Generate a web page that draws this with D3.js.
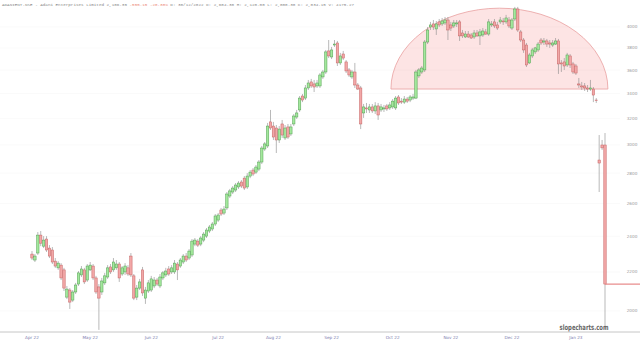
<!DOCTYPE html>
<html>
<head>
<meta charset="utf-8">
<script src="https://cdn.jsdelivr.net/npm/d3@7"></script>
<style>
  body { margin: 0; background: #fff; }
  svg { display: block; }
</style>
</head>
<body>
<svg id="chart" width="640" height="343"></svg>
<script>
// Daily candles, one row per session: [open, high, low, close]
var apr = [
  [2298, 2315, 2265, 2276], [2265, 2298, 2254, 2287], [2304, 2425, 2293, 2407], [2407, 2431, 2343, 2360],
  [2343, 2401, 2332, 2378], [2384, 2401, 2310, 2321], [2332, 2349, 2276, 2287], [2321, 2338, 2243, 2254],
  [2259, 2276, 2222, 2232], [2222, 2259, 2211, 2248], [2237, 2248, 2157, 2168], [2211, 2222, 2100, 2115],
  [2069, 2126, 2059, 2110], [2105, 2115, 2010, 2044], [2054, 2105, 2044, 2095], [2095, 2142, 2085, 2131],
  [2136, 2205, 2126, 2195], [2184, 2232, 2173, 2216], [2211, 2222, 2136, 2147], [2157, 2243, 2147, 2232]
];
var may = [
  [2211, 2254, 2205, 2237], [2232, 2243, 2157, 2168], [2168, 2179, 2085, 2095], [2121, 2136, 1910, 2064],
  [2095, 2168, 2080, 2152], [2142, 2195, 2131, 2179], [2173, 2237, 2163, 2222], [2227, 2243, 2189, 2200],
  [2211, 2276, 2200, 2254], [2222, 2265, 2211, 2243], [2243, 2254, 2147, 2168], [2189, 2232, 2179, 2222],
  [2200, 2248, 2184, 2232], [2222, 2237, 2179, 2189], [2287, 2304, 2173, 2184], [2179, 2189, 2054, 2064],
  [2069, 2131, 2054, 2115], [2115, 2163, 2105, 2147], [2211, 2227, 2075, 2090], [2064, 2121, 2035, 2105],
  [2100, 2157, 2090, 2142]
];
var jun = [
  [2105, 2179, 2095, 2163], [2126, 2173, 2115, 2157], [2157, 2168, 2126, 2136], [2126, 2189, 2115, 2173],
  [2168, 2205, 2157, 2195], [2184, 2222, 2173, 2205], [2216, 2232, 2179, 2189], [2200, 2237, 2189, 2222],
  [2200, 2265, 2189, 2248], [2243, 2254, 2157, 2211], [2232, 2276, 2222, 2265], [2254, 2298, 2243, 2287],
  [2287, 2304, 2254, 2265], [2276, 2326, 2265, 2315], [2293, 2384, 2282, 2372], [2355, 2390, 2343, 2378],
  [2372, 2384, 2338, 2349], [2355, 2401, 2343, 2390], [2378, 2425, 2366, 2413], [2401, 2449, 2390, 2437],
  [2431, 2467, 2419, 2455], [2443, 2485, 2431, 2473], [2473, 2534, 2461, 2522]
];
var jul = [
  [2497, 2540, 2485, 2528], [2559, 2572, 2522, 2534], [2540, 2584, 2528, 2565], [2572, 2674, 2559, 2661],
  [2648, 2694, 2635, 2681], [2674, 2713, 2661, 2700], [2687, 2733, 2674, 2720], [2707, 2746, 2694, 2733],
  [2740, 2753, 2700, 2713], [2766, 2780, 2687, 2700], [2707, 2800, 2694, 2780], [2780, 2821, 2766, 2807],
  [2821, 2835, 2780, 2794], [2807, 2856, 2794, 2842], [2828, 2891, 2814, 2877], [2877, 2992, 2863, 2977],
  [2970, 3021, 2956, 3007], [2992, 3165, 2977, 3141], [3173, 3267, 3111, 3126]
];
var aug = [
  [3141, 3173, 3036, 3058], [3126, 3149, 2941, 3036], [3036, 3141, 3014, 3118], [3157, 3188, 3051, 3073],
  [3051, 3149, 3036, 3126], [3134, 3157, 3044, 3058], [3081, 3157, 3066, 3134], [3157, 3235, 3141, 3219],
  [3211, 3267, 3196, 3243], [3267, 3380, 3251, 3363], [3380, 3397, 3330, 3347], [3363, 3472, 3347, 3447],
  [3447, 3515, 3430, 3489], [3498, 3524, 3447, 3464], [3481, 3515, 3413, 3455], [3464, 3515, 3447, 3489],
  [3464, 3575, 3447, 3558], [3541, 3602, 3524, 3584], [3584, 3782, 3567, 3764], [3773, 3875, 3708, 3727]
];
var sep = [
  [3718, 3810, 3699, 3782], [3828, 3875, 3810, 3837], [3847, 3866, 3637, 3664], [3664, 3755, 3646, 3727],
  [3745, 3773, 3690, 3708], [3673, 3690, 3575, 3593], [3602, 3619, 3541, 3558], [3541, 3602, 3524, 3584],
  [3584, 3664, 3447, 3472], [3472, 3489, 3430, 3438], [3447, 3464, 3118, 3157], [3243, 3315, 3204, 3291],
  [3283, 3323, 3243, 3275], [3267, 3315, 3243, 3291], [3291, 3315, 3243, 3259], [3259, 3330, 3235, 3299],
  [3299, 3323, 3188, 3227], [3267, 3315, 3251, 3291], [3275, 3307, 3251, 3283], [3299, 3315, 3259, 3275],
  [3283, 3330, 3267, 3307]
];
var oct = [
  [3291, 3355, 3275, 3338], [3283, 3380, 3267, 3363], [3372, 3388, 3307, 3323], [3338, 3363, 3315, 3330],
  [3330, 3380, 3315, 3355], [3355, 3372, 3323, 3338], [3347, 3388, 3330, 3372], [3363, 3397, 3347, 3372],
  [3363, 3602, 3355, 3584], [3550, 3619, 3532, 3602], [3584, 3637, 3567, 3619], [3602, 3875, 3584, 3856],
  [3856, 4000, 3837, 3971], [4000, 4050, 3971, 4020], [4030, 4069, 3971, 4000], [3981, 4059, 3923, 4030],
  [4050, 4079, 4000, 4020], [4030, 4089, 4010, 4059], [4040, 4099, 4020, 4069], [4069, 4099, 3875, 3971]
];
var nov = [
  [4020, 4050, 3961, 3990], [4010, 4069, 3990, 4040], [4030, 4069, 4000, 4040], [4050, 4069, 3866, 3914],
  [3942, 3971, 3894, 3914], [3904, 3961, 3894, 3932], [3932, 3961, 3894, 3904], [3923, 3942, 3885, 3894],
  [3904, 3971, 3885, 3942], [3942, 3971, 3904, 3914], [3914, 3981, 3828, 3952], [3923, 3990, 3904, 3961],
  [3952, 3981, 3923, 3932], [3932, 4079, 3914, 4050], [4020, 4059, 4000, 4030], [4050, 4079, 3990, 4010],
  [4020, 4050, 3971, 3990], [4050, 4099, 4030, 4069], [4059, 4089, 4020, 4050], [4050, 4120, 4030, 4089],
  [4069, 4099, 3990, 4010]
];
var dec = [
  [3990, 4089, 3971, 4069], [4079, 4201, 4059, 4180], [4180, 4201, 3952, 3971], [3952, 3971, 3856, 3875],
  [3875, 3894, 3755, 3782], [3828, 3847, 3628, 3646], [3664, 3755, 3655, 3736], [3727, 3801, 3708, 3782],
  [3764, 3810, 3745, 3801], [3782, 3856, 3764, 3837], [3875, 3894, 3828, 3847], [3856, 3894, 3828, 3866],
  [3866, 3885, 3810, 3837], [3847, 3875, 3801, 3837], [3828, 3875, 3810, 3847], [3837, 3894, 3828, 3866],
  [3866, 3885, 3567, 3655], [3664, 3690, 3584, 3655], [3673, 3708, 3602, 3637], [3646, 3755, 3628, 3736],
  [3727, 3745, 3619, 3646], [3655, 3673, 3567, 3584]
];
var jan = [
  [3637, 3655, 3558, 3575], [3481, 3532, 3447, 3472], [3464, 3498, 3430, 3455], [3464, 3489, 3422, 3447],
  [3447, 3472, 3413, 3438], [3438, 3515, 3422, 3447], [3438, 3455, 3330, 3388], [3347, 3363, 3323, 3343],
  [2891, 3073, 2674, 2870], [2999, 3036, 2963, 2978], [2999, 3088, 1914, 2136]
];

var monthLabels = ["Apr 22", "May 22", "Jun 22", "Jul 22", "Aug 22", "Sep 22", "Oct 22", "Nov 22", "Dec 22", "Jan 23"];
var monthStart = [0, 20, 41, 64, 83, 103, 124, 144, 165, 187];
var priceTicks = [2000, 2200, 2400, 2600, 2800, 3000, 3200, 3400, 3600, 3800, 4000];

// rounded-top annotation: session index span, base price and top price
var dome = { from: 123.4, to: 198, base: 3438, top: 4188 };

var headTitle = "ADANIENT.NSE - Adani Enterprises Limited 2,106.35 ";
var headChange = "-555.15 -20.88%";
var headRest = " D: 30/12/2022 O: 2,604.30 H: 2,120.00 L: 2,000.30 C: 2,034.15 V: 4175.27";

var candles = [].concat(apr, may, jun, jul, aug, sep, oct, nov, dec, jan).map(function (d, i) {
    return { i: i, o: d[0], h: d[1], l: d[2], c: d[3] };
});

var svg = d3.select("#chart");
var width = 640, height = 343;

var x = d3.scaleLinear().domain([0, candles.length - 1]).range([32, 605]);
var y = d3.scaleLog().domain([2000, 4000]).range([311, 27]);

// Gridlines (very faint)
svg.append("g").selectAll("line")
    .data(priceTicks)
    .enter().append("line")
    .attr("x1", 0).attr("x2", 620)
    .attr("y1", function (d) { return y(d); })
    .attr("y2", function (d) { return y(d); })
    .attr("stroke", "#f7f7f7")
    .attr("stroke-width", 0.6);

// Dome annotation
var dx0 = x(dome.from), dx1 = x(dome.to), dyb = y(dome.base), dyt = y(dome.top);
var rx = (dx1 - dx0) / 2, ry = dyb - dyt;
svg.append("path")
    .attr("d", "M" + dx0 + "," + dyb + " A" + rx + "," + ry + " 0 0 1 " + dx1 + "," + dyb + " Z")
    .attr("fill", "rgba(244, 120, 120, 0.2)")
    .attr("stroke", "#e8a0a0")
    .attr("stroke-width", 0.8);

// Candles
var bodyW = 2.4;
var g = svg.append("g");
g.selectAll(".wick")
    .data(candles)
    .enter().append("line")
    .attr("class", "wick")
    .attr("x1", function (d) { return x(d.i); })
    .attr("x2", function (d) { return x(d.i); })
    .attr("y1", function (d) { return y(d.h); })
    .attr("y2", function (d) { return y(d.l); })
    .attr("stroke", "#8a8a8a")
    .attr("stroke-width", 0.6);

g.selectAll(".body")
    .data(candles)
    .enter().append("rect")
    .attr("class", "body")
    .attr("x", function (d) { return x(d.i) - bodyW / 2; })
    .attr("y", function (d) { return y(Math.max(d.o, d.c)); })
    .attr("width", bodyW)
    .attr("height", function (d) { return Math.max(0.6, Math.abs(y(d.o) - y(d.c))); })
    .attr("fill", function (d) { return d.c >= d.o ? "#a3e89c" : "#f2a7a7"; })
    .attr("stroke", function (d) { return d.c >= d.o ? "#4f9e4f" : "#c46262"; })
    .attr("stroke-width", 0.5);

// Last price line
var last = candles[candles.length - 1];
svg.append("line")
    .attr("x1", x(last.i)).attr("x2", width)
    .attr("y1", y(last.c)).attr("y2", y(last.c))
    .attr("stroke", "#e88d8d")
    .attr("stroke-width", 1.3);

// Right price labels
svg.append("g").selectAll("text")
    .data(priceTicks)
    .enter().append("text")
    .attr("x", 632)
    .attr("y", function (d) { return y(d); })
    .attr("dy", "0.35em")
    .attr("text-anchor", "middle")
    .attr("font-family", "DejaVu Sans, sans-serif")
    .attr("font-size", 4.2)
    .attr("fill", "#9a9a9a")
    .text(function (d) { return d; });

// Bottom axis
svg.append("line")
    .attr("x1", 0).attr("x2", width)
    .attr("y1", 332).attr("y2", 332)
    .attr("stroke", "#b8b8b8")
    .attr("stroke-width", 0.8);

svg.append("g").selectAll("text")
    .data(monthLabels)
    .enter().append("text")
    .attr("x", function (d, i) { return x(monthStart[i]); })
    .attr("y", 339)
    .attr("text-anchor", "middle")
    .attr("font-family", "DejaVu Sans, sans-serif")
    .attr("font-size", 4.2)
    .attr("fill", "#7c7cae")
    .text(function (d) { return d; });

// Header
var head = svg.append("text")
    .attr("x", 2).attr("y", 6)
    .attr("font-family", "Liberation Mono, monospace")
    .attr("font-size", 4.25)
    .attr("fill", "#8a8a8a");
head.append("tspan").text(headTitle);
head.append("tspan").attr("fill", "#ec8c7c").text(headChange);
head.append("tspan").text(headRest);

// Watermark
svg.append("text")
    .attr("x", 584).attr("y", 330)
    .attr("text-anchor", "middle")
    .attr("font-family", "DejaVu Sans, sans-serif")
    .attr("font-weight", "bold")
    .attr("font-size", 7.5)
    .attr("textLength", 49)
    .attr("lengthAdjust", "spacingAndGlyphs")
    .attr("fill", "#666")
    .text("slopecharts.com");
</script>
</body>
</html>
